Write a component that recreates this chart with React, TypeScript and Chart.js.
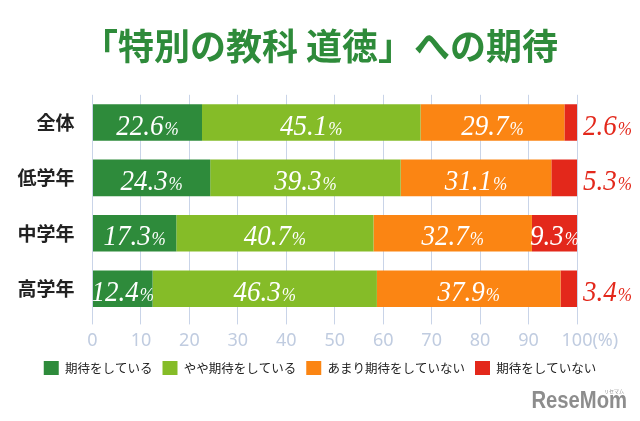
import React, { useEffect, useRef } from "react";
import { Chart, registerables } from "chart.js";

Chart.register(...registerables);

const titleText = "「特別の教科 道徳」への期待";
const categories = ["全体", "低学年", "中学年", "高学年"];
const seriesNames = ["期待をしている", "やや期待をしている", "あまり期待をしていない", "期待をしていない"];
const expecting = [22.6, 24.3, 17.3, 12.4];
const somewhatExpecting = [45.1, 39.3, 40.7, 46.3];
const notMuchExpecting = [29.7, 31.1, 32.7, 37.9];
const notExpecting = [2.6, 5.3, 9.3, 3.4];
const seriesColors = ["#2e8b3b", "#85bc28", "#fb8513", "#e3281b"];
const xMin = 0;
const xMax = 100;
const xStep = 10;
const lastTickSuffix = "(%)";
const logoText = "ReseMom";
const logoRuby = "リセマム";

const numFont = "italic 30px 'Liberation Serif', 'DejaVu Serif', serif";
const pctFont = "italic 19px 'Liberation Serif', 'DejaVu Serif', serif";

const segLabels = {
  id: "segLabels",
  afterDatasetsDraw(chart: any) {
    const ctx = chart.ctx;
    chart.data.datasets.forEach((ds: any, di: number) => {
      const meta = chart.getDatasetMeta(di);
      meta.data.forEach((bar: any, i: number) => {
        const v = ds.data[i] as number;
        const num = v.toFixed(1);
        const { x, base, y } = bar.getProps(["x", "base", "y"], true);
        ctx.save();
        ctx.font = numFont;
        const wN = ctx.measureText(num).width;
        ctx.font = pctFont;
        const wP = ctx.measureText("%").width;
        const outside = di === 3 && v < 6;
        const sx = 0.9;
        const total = (wN + wP + 1) * sx;
        let start: number;
        if (outside) {
          start = x + 6;
          ctx.fillStyle = seriesColors[3];
        } else {
          start = (x + base) / 2 - total / 2;
          ctx.fillStyle = "#ffffff";
        }
        const baseline = y + 12;
        ctx.translate(start, baseline);
        ctx.scale(sx, 1);
        ctx.textAlign = "left";
        ctx.textBaseline = "alphabetic";
        ctx.font = numFont;
        ctx.fillText(num, 0, 0);
        ctx.font = pctFont;
        ctx.fillText("%", wN + 1, 0);
        ctx.restore();
      });
    });
  },
};

const extras = {
  id: "extras",
  afterDraw(chart: any) {
    const ctx = chart.ctx;
    const xs = chart.scales.x;
    const items = xs.getLabelItems ? xs.getLabelItems() : [];
    if (items.length) {
      const it = items[items.length - 1];
      const [tx, ty] = it.options.translation;
      ctx.save();
      ctx.font = it.font.string;
      const w = ctx.measureText(String(it.label)).width;
      ctx.fillStyle = "#c0cce0";
      ctx.textAlign = "left";
      ctx.textBaseline = it.options.textBaseline;
      ctx.fillText(lastTickSuffix, tx + w / 2, ty + it.textOffset);
      ctx.restore();
    }
    ctx.save();
    ctx.fillStyle = "#8d8d8d";
    ctx.textAlign = "right";
    ctx.textBaseline = "alphabetic";
    ctx.translate(627, 408);
    ctx.scale(0.88, 1);
    ctx.font = "bold 23px 'Liberation Sans', 'DejaVu Sans', sans-serif";
    ctx.fillText(logoText, 0, 0);
    ctx.restore();
    ctx.save();
    ctx.fillStyle = "#8d8d8d";
    ctx.font = "5px 'Noto Sans CJK JP', sans-serif";
    ctx.textAlign = "center";
    ctx.fillText(logoRuby, 614, 391);
    ctx.restore();
  },
};

export default function App() {
  const ref = useRef<HTMLCanvasElement | null>(null);

  useEffect(() => {
    if (!ref.current) return;
    const seriesData = [expecting, somewhatExpecting, notMuchExpecting, notExpecting];
    const chart = new Chart(ref.current, {
      type: "bar",
      data: {
        labels: categories,
        datasets: seriesNames.map((name, i) => ({
          label: name,
          data: seriesData[i],
          backgroundColor: seriesColors[i],
          borderWidth: 0,
          barPercentage: 0.66,
          categoryPercentage: 1,
        })),
      },
      options: {
        indexAxis: "y",
        responsive: false,
        animation: false,
        layout: { padding: { top: 0, left: 0, right: 0, bottom: 36 } },
        scales: {
          x: {
            stacked: true,
            min: xMin,
            max: xMax,
            position: "bottom",
            grid: { color: "#c9d4e8", lineWidth: 1, drawTicks: true, tickLength: 8, tickColor: "#c9d4e8" },
            border: { display: false },
            ticks: {
              stepSize: xStep,
              color: "#c0cce0",
              padding: 6,
              font: { family: "'Noto Sans', sans-serif", size: 18 },
              maxRotation: 0,
            },
            afterFit: (s: any) => {
              s.height = 34.6;
            },
          },
          y: {
            stacked: true,
            grid: { display: false },
            border: { display: false },
            ticks: {
              color: "#222222",
              padding: 10,
              font: { family: "'Noto Sans CJK JP', sans-serif", size: 19, weight: "bold" },
            },
            afterFit: (s: any) => {
              s.width = 92.5;
            },
          },
          yRight: {
            type: "linear",
            position: "right",
            display: true,
            grid: { display: false },
            border: { display: false },
            ticks: { display: false },
            afterFit: (s: any) => {
              s.width = 63;
            },
          },
        },
        plugins: {
          title: {
            display: true,
            text: titleText,
            color: "#2e8b3a",
            font: { family: "'Noto Sans CJK JP', sans-serif", size: 36, weight: "bold" },
            padding: { top: 24.5, bottom: 27.1 },
          },
          legend: {
            display: true,
            position: "bottom",
            labels: {
              boxWidth: 15,
              boxHeight: 14,
              padding: 10,
              color: "#222222",
              font: { family: "'Noto Sans CJK JP', sans-serif", size: 12.5 },
            },
          },
          tooltip: { enabled: false },
        },
      },
      plugins: [segLabels, extras],
    } as any);
    return () => chart.destroy();
  }, []);

  return (
    <div style={{ position: "fixed", left: 0, top: 0, width: 640, height: 421, background: "#ffffff" }}>
      <canvas ref={ref} width={640} height={421} style={{ width: 640, height: 421, display: "block" }} />
    </div>
  );
}
